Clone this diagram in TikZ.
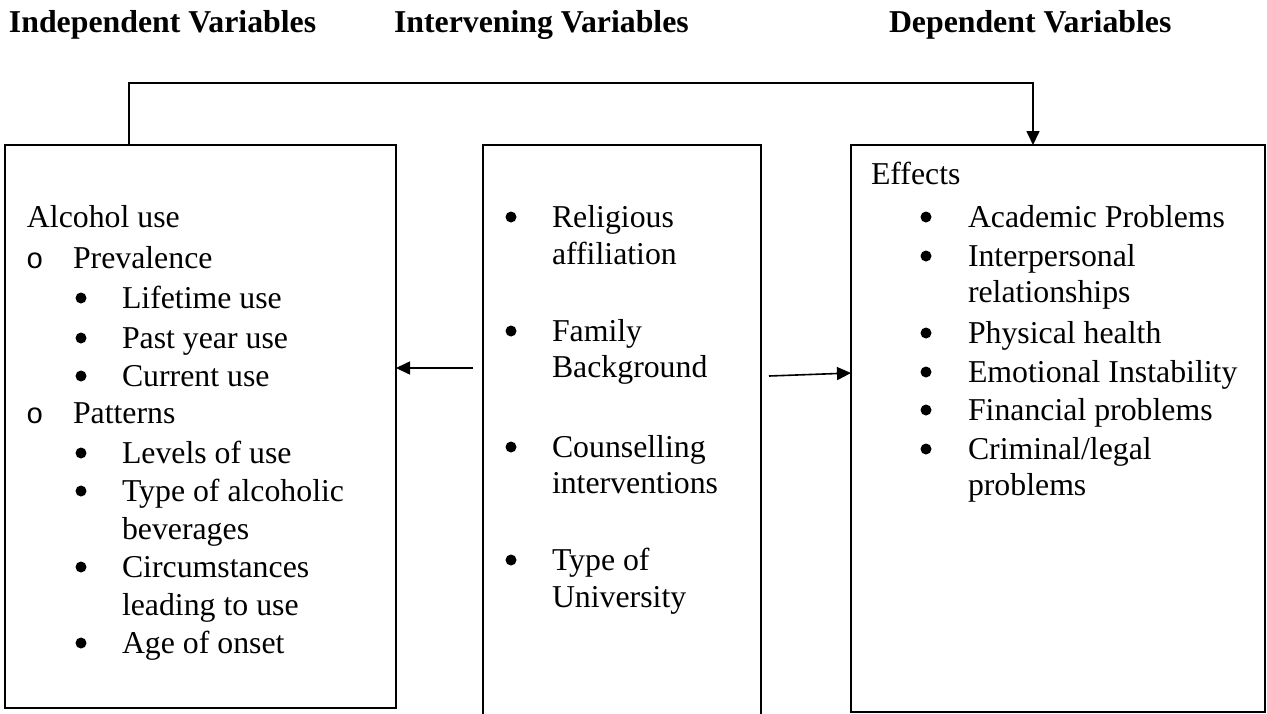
\documentclass[tikz,border=0pt]{standalone}
\usepackage{fontspec}
\setmainfont{Liberation Serif}
\setmonofont{Liberation Mono}
\usetikzlibrary{arrows.meta,calc}
\begin{document}
\begin{tikzpicture}[x=1pt,y=-1pt,
  every node/.style={inner sep=0pt, outer sep=0pt, font=\fontsize{31.8}{38}\selectfont},
  title/.style={anchor=base west, font=\fontsize{31.8}{38}\selectfont\bfseries},
  txt/.style={anchor=base west},
  sub/.style={anchor=base west, font=\fontsize{29}{38}\selectfont\ttfamily},
  box/.style={draw, line width=1.6pt, anchor=north west},
  frame/.style={anchor=north west},
  conn/.style={line width=1.6pt, -{Triangle[length=14pt,width=13pt]}},
  bul/.style={fill=black}]
\useasboundingbox (0,0) rectangle (1267,713);
\clip (0,0) rectangle (1267,713);
% titles
\node[title] (t1) at (9,32) {Independent Variables};
\node[title] (t2) at (394,32) {Intervening Variables};
\node[title] (t3) at (889,32) {Dependent Variables};
% boxes
\node[box, minimum width=391pt, minimum height=563pt] (indep) at (5,145) {};
\node[frame, minimum width=278pt, minimum height=600pt] (interv) at (483,145) {};
\draw[line width=1.6pt] (interv.south west) -- (interv.north west) -- (interv.north east) -- (interv.south east);
\node[box, minimum width=414pt, minimum height=567pt] (effects) at (851,145) {};
% left box text
\node[txt] (a0) at (27,227) {Alcohol use};
\node[sub] (o1) at (26,268) {o};
\node[txt] (a1) at (73,268) {Prevalence};
\node[txt] (a2) at (122,308) {Lifetime use};
\node[txt] (a3) at (122,348) {Past year use};
\node[txt] (a4) at (122,386) {Current use};
\node[sub] (o2) at (26,423) {o};
\node[txt] (a5) at (73,423) {Patterns};
\node[txt] (a6) at (122,463) {Levels of use};
\node[txt] (a7) at (122,501) {Type of alcoholic};
\node[txt] (a8) at (122,539) {beverages};
\node[txt] (a9) at (122,577) {Circumstances};
\node[txt] (a10) at (122,615) {leading to use};
\node[txt] (a11) at (122,653) {Age of onset};
\foreach \yy in {298,338,376,453,491,567,643} \fill[bul] (81,\yy) circle (5.5pt);
% middle box text
\node[txt] (m1) at (552,227) {Religious};
\node[txt] (m2) at (552,264) {affiliation};
\node[txt] (m3) at (552,341) {Family};
\node[txt] (m4) at (552,377) {Background};
\node[txt] (m5) at (552,457) {Counselling};
\node[txt] (m6) at (552,493) {interventions};
\node[txt] (m7) at (552,570) {Type of};
\node[txt] (m8) at (552,607) {University};
\foreach \yy in {217,331,447,560} \fill[bul] (511,\yy) circle (5.5pt);
% right box text
\node[txt] (e0) at (871,184) {Effects};
\node[txt] (e1) at (968,227) {Academic Problems};
\node[txt] (e2) at (968,266) {Interpersonal};
\node[txt] (e3) at (968,302) {relationships};
\node[txt] (e4) at (968,343) {Physical health};
\node[txt] (e5) at (968,382) {Emotional Instability};
\node[txt] (e6) at (968,420) {Financial problems};
\node[txt] (e7) at (968,459) {Criminal/legal};
\node[txt] (e8) at (968,495) {problems};
\foreach \yy in {217,256,333,372,410,449} \fill[bul] (926,\yy) circle (5.5pt);
% connectors
\draw[conn] ([xshift=124pt]indep.north west) -- ++(0,-62) -| ([xshift=182pt]effects.north west);
\draw[conn] ($(interv.north west)+(-10,223)$) -- ($(indep.north east)+(0,223)$);
\draw[conn] ($(interv.north east)+(8,231)$) -- ($(effects.north west)+(0,228)$);
\end{tikzpicture}
\end{document}
